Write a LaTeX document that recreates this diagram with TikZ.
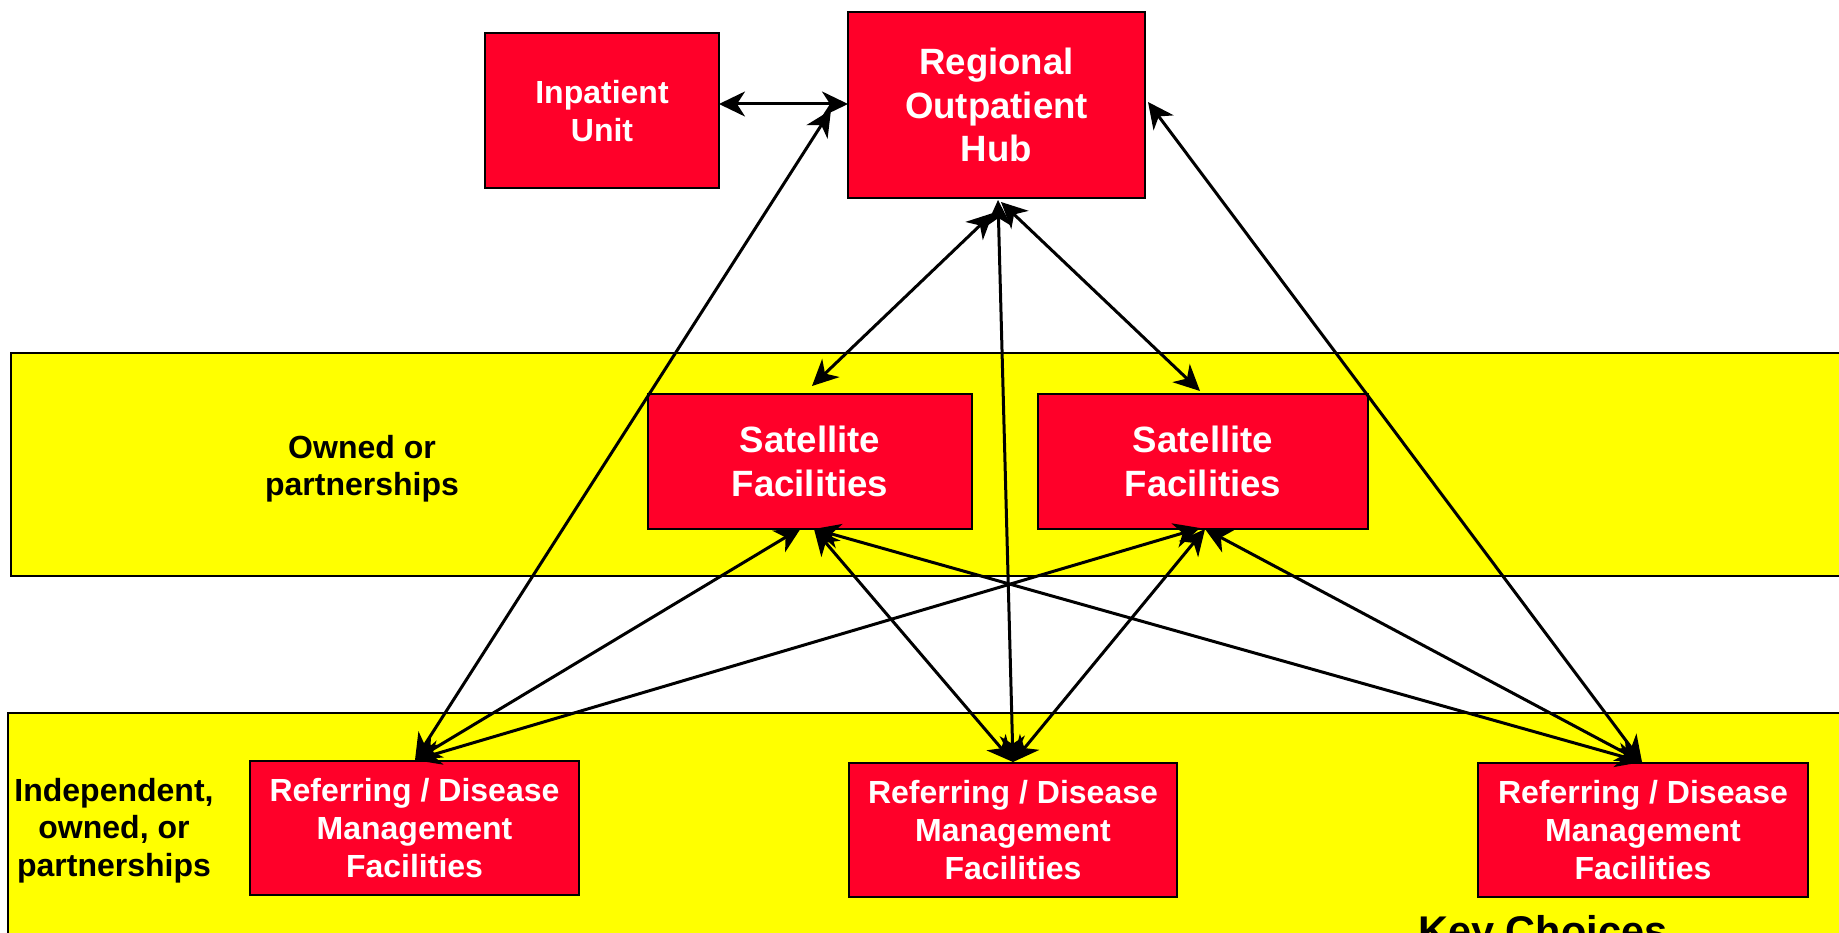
\documentclass[tikz,border=0pt]{standalone}
\usepackage{fontspec}
\setmainfont{Liberation Sans}
\usetikzlibrary{arrows.meta}
\definecolor{boxred}{RGB}{255,0,41}
\definecolor{bandyellow}{RGB}{255,255,0}
\begin{document}
\begin{tikzpicture}[x=1pt,y=-1pt,
  band/.style={draw=black,line width=2.5pt,fill=bandyellow},
  redbox/.style={draw=black,line width=2pt,fill=boxred,text=white,align=center,inner sep=0pt,
    font=\fontsize{32}{38}\selectfont\bfseries},
  bigbox/.style={redbox,font=\fontsize{36.6}{43.6}\selectfont\bfseries},
  lbl/.style={align=center,text=black,font=\fontsize{32}{37.5}\selectfont\bfseries},
  conn/.style={line width=3pt,draw=black,{Stealth[length=26pt,width=25pt,inset=8pt]}-{Stealth[length=26pt,width=25pt,inset=8pt]}}
]
\useasboundingbox (0,0) rectangle (1839,933);
\clip (0,0) rectangle (1839,933);
\fill[white] (0,0) rectangle (1839,933);
% bands
\draw[band] (11,353) rectangle (1860,576);
\draw[band] (8,713) rectangle (1860,960);
% nodes
\node[redbox,minimum width=233.5pt,minimum height=155pt,text depth=0pt] (inp) at (602,110.5) {Inpatient\\Unit};
\node[bigbox,minimum width=297pt,minimum height=186pt] (hub) at (996.5,105) {Regional\\Outpatient\\Hub};
\node[bigbox,minimum width=323.5pt,minimum height=135pt] (sat1) at (810,461.5) {Satellite\\Facilities};
\node[bigbox,minimum width=329.5pt,minimum height=135pt] (sat2) at (1203,461.5) {Satellite\\Facilities};
\node[redbox,minimum width=329pt,minimum height=134pt] (ref1) at (414.5,828) {Referring / Disease\\Management\\Facilities};
\node[redbox,minimum width=328.5pt,minimum height=133.5pt] (ref2) at (1013,830) {Referring / Disease\\Management\\Facilities};
\node[redbox,minimum width=330pt,minimum height=133.5pt] (ref3) at (1643,830) {Referring / Disease\\Management\\Facilities};
% labels
\node[lbl] (own) at (362,468.5) {Owned or\\partnerships};
\node[lbl] (ind) at (114,830.5) {Independent,\\owned, or\\partnerships};
\node[anchor=base west,inner sep=0pt,font=\fontsize{41.5}{48}\selectfont\bfseries] (key) at (1418,945) {Key Choices};
% connector end points
\coordinate (inpR) at (719,104);
\coordinate (hubL) at (848,104);
\coordinate (hubA) at (831,110);
\coordinate (hubB) at (993,213);
\coordinate (hubC) at (998,200);
\coordinate (hubD) at (1001,202);
\coordinate (hubE) at (1148,102);
\coordinate (sat1T) at (812,386);
\coordinate (sat2T) at (1200,391);
\coordinate (sat1A) at (801,528);
\coordinate (sat1B) at (814,529);
\coordinate (sat2A) at (1200,528);
\coordinate (sat2B) at (1205,529);
\coordinate (ref1T) at (415,760);
\coordinate (ref2T) at (1013,762);
\coordinate (ref3T) at (1642,762);
% connectors
\draw[conn] (inpR) -- (hubL);
\draw[conn] (hubA) -- (ref1T);
\draw[conn] (hubB) -- (sat1T);
\draw[conn] (hubD) -- (sat2T);
\draw[conn] (hubC) -- (ref2T);
\draw[conn] (hubE) -- (ref3T);
\draw[conn] (sat1A) -- (ref1T);
\draw[conn] (sat2A) -- (ref1T);
\draw[conn] (sat1B) -- (ref2T);
\draw[conn] (sat2B) -- (ref2T);
\draw[conn] (sat1B) -- (ref3T);
\draw[conn] (sat2B) -- (ref3T);
\end{tikzpicture}
\end{document}
